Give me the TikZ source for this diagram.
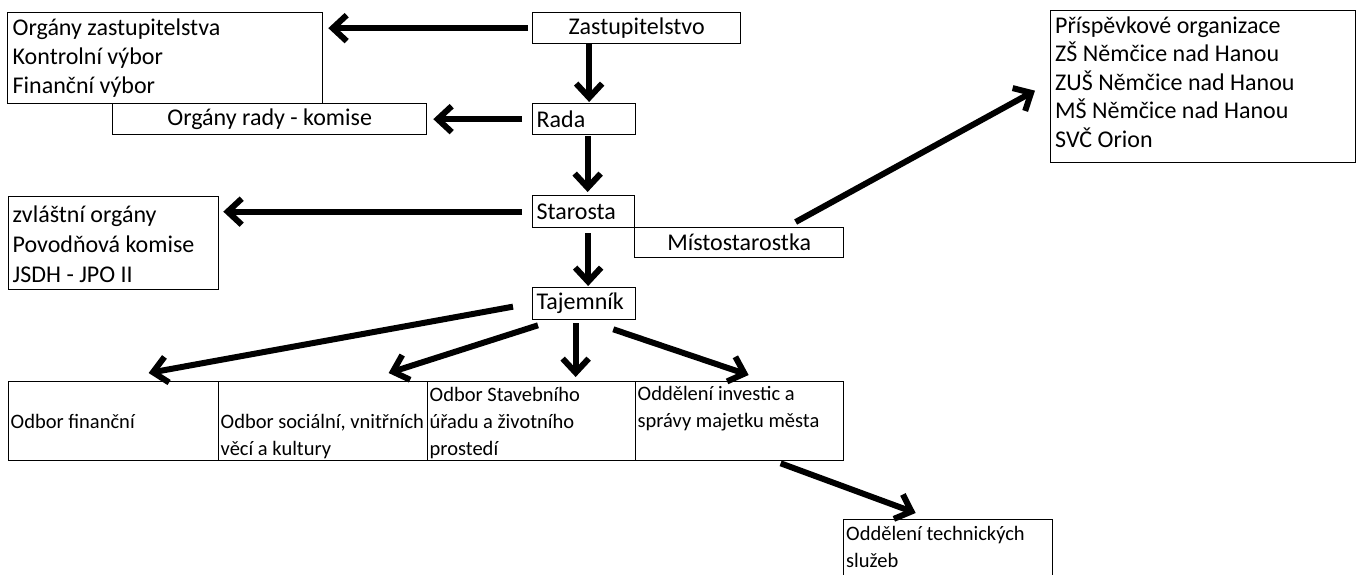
\documentclass[tikz,border=0pt]{standalone}
\usepackage{fontspec}
\setmainfont{Carlito}
\usetikzlibrary{arrows.meta}
\newcommand{\fbig}{\fontsize{24}{29}\selectfont}
\newcommand{\fzvl}{\fontsize{24}{30}\selectfont}
\newcommand{\fprs}{\fontsize{24}{28.5}\selectfont}
\newcommand{\fsml}{\fontsize{20.5}{27}\selectfont}
\newcommand{\lns}[1]{\begin{tabular}[t]{@{}l@{}}#1\end{tabular}}
\tikzset{
  box/.style={draw, line width=1.3pt, inner sep=0pt, anchor=north west, font=\fbig},
  lbox/.style={box, align=left, inner xsep=4pt},
  txt/.style={inner sep=0pt, anchor=base west},
  arr/.style={line width=6pt, -{Straight Barb[length=14pt,width=26pt]}}
}
\begin{document}
\begin{tikzpicture}[x=1pt,y=-1pt]
\useasboundingbox (0,0) rectangle (1357,574);
\clip (0,0) rectangle (1357,574);
\fill[white] (0,0) rectangle (1357,574);
% top-left boxes
\node[box, minimum width=315pt, minimum height=91pt] (orgz) at (7,12) {};
\node[txt, font=\fbig] (orgzt) at (12.5,35) {\lns{Orgány zastupitelstva\\Kontrolní výbor\\Finanční výbor}};
\node[box, minimum width=314pt, minimum height=31pt] (orgr) at (112,103) {Orgány rady - komise};
% central column
\node[box, minimum width=208pt, minimum height=31pt] (zast) at (532,12) {Zastupitelstvo};
\node[lbox, minimum height=31pt, text width=95pt] (rada) at (532,103) {Rada};
\node[lbox, minimum height=32pt, text width=94pt] (star) at (532,195) {Starosta};
\node[box, minimum width=209pt, minimum height=30pt] (mist) at (634,227) {Místostarostka};
\node[lbox, minimum height=32pt, text width=95pt] (taj) at (532,287) {Tajemník};
% zvláštní orgány
\node[box, minimum width=210pt, minimum height=93pt] (zvl) at (8,196) {};
\node[txt, font=\fzvl] (zvlt) at (12.5,222) {\lns{zvláštní orgány\\Povodňová komise\\JSDH - JPO II}};
% příspěvkové organizace
\node[box, minimum width=305pt, minimum height=152pt] (prisp) at (1050,10) {};
\node[txt, font=\fprs] (prispt) at (1055,33) {\lns{Příspěvkové organizace\\ZŠ Němčice nad Hanou\\ZUŠ Němčice nad Hanou\\MŠ Němčice nad Hanou\\SVČ Orion}};
% bottom row
\node[box, minimum width=210pt, minimum height=79pt] (fin) at (8,381) {};
\node[box, minimum width=209pt, minimum height=79pt] (soc) at (218,381) {};
\node[box, minimum width=208pt, minimum height=79pt] (stav) at (427,381) {};
\node[box, minimum width=208pt, minimum height=79pt] (inv) at (635,381) {};
\node[box, minimum width=209pt, minimum height=80pt] (tech) at (843,519) {};
\node[txt, font=\fsml] (fint) at (10.5,428) {Odbor finanční};
\node[txt, font=\fsml] (soct) at (220.5,428) {\lns{Odbor sociální, vnitřních\\věcí a kultury}};
\node[txt, font=\fsml] (stavt) at (429.5,401) {\lns{Odbor Stavebního\\úřadu a životního\\prostedí}};
\node[txt, font=\fsml] (invt) at (637.5,400) {\lns{Oddělení investic a\\správy majetku města}};
\node[txt, font=\fsml] (techt) at (846,540) {\lns{Oddělení technických\\služeb}};
% arrows
\draw[arr, shorten <=4pt, shorten >=5pt] (zast.west) -- (zast.west -| orgz.east);
\draw[arr, shorten <=10pt, shorten >=6pt] (rada.west) -- (rada.west -| orgr.east);
\draw[arr, shorten <=10pt, shorten >=4pt] (star.west) -- (star.west -| zvl.east);
\draw[arr, shorten >=1pt] ([xshift=5pt]rada.north |- zast.south) -- ([xshift=5pt]rada.north);
\draw[arr, shorten <=1pt, shorten >=3pt] ([xshift=4pt]star.north |- rada.south) -- ([xshift=4pt]star.north);
\draw[arr, shorten <=5pt, shorten >=1pt] ([xshift=4pt]taj.north |- star.south) -- ([xshift=4pt]taj.north);
\draw[arr, shorten <=3pt, shorten >=4pt] ([xshift=-8.5pt]taj.south) -- ([xshift=-8.5pt]taj.south |- stav.north);
\draw[arr] ([xshift=-19pt,yshift=-3pt]taj.west) -- ([xshift=35pt,yshift=8pt]fin.north);
\draw[arr] ([xshift=6pt,yshift=-5pt]taj.south west) -- ([xshift=65.5pt,yshift=8pt]soc.north);
\draw[arr] ([xshift=-23pt,yshift=-9pt]taj.south east) -- ([xshift=9pt,yshift=6pt]inv.north);
\draw[arr] ([xshift=41pt,yshift=-2pt]inv.south) -- ([xshift=-32.5pt,yshift=6pt]tech.north);
\draw[arr] ([xshift=56.5pt,yshift=5pt]mist.north) -- ([xshift=-15pt,yshift=-4pt]prisp.west);
\end{tikzpicture}
\end{document}
